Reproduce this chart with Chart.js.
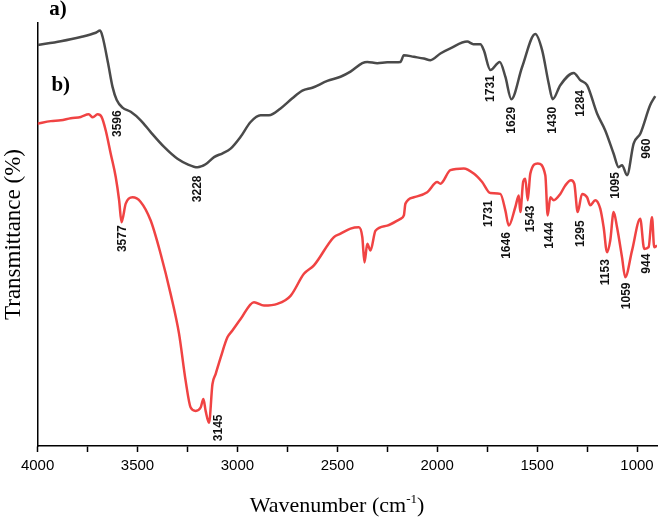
<!DOCTYPE html>
<html>
<head>
<meta charset="utf-8">
<script src="https://cdn.jsdelivr.net/npm/chart.js@4.4.0/dist/chart.umd.min.js"></script>
<style>
  body { margin: 0; background: #fff; }
</style>
</head>
<body>
<canvas id="ftir" width="659" height="518"></canvas>
<script>
// spectrum a) - grey
const wavenumbersA = [4000, 3884, 3784, 3709, 3687, 3675, 3647, 3625, 3604, 3575, 3534, 3484, 3434, 3367, 3300, 3249, 3200,
  3159, 3117, 3074, 3034, 2984, 2934, 2884, 2842, 2784, 2725, 2675, 2625, 2550, 2484, 2434, 2375, 2350, 2300, 2250, 2184,
  2167, 2117, 2067, 2034, 1984, 1934, 1850, 1819, 1784, 1767, 1734, 1687, 1659, 1629, 1575, 1509, 1475, 1442, 1422, 1384,
  1317, 1284, 1250, 1200, 1159, 1117, 1092, 1075, 1050, 1017, 983, 934, 909];
const transmittanceA = [94.8, 95.7, 96.7, 97.7, 98.2, 96.8, 90.4, 84.9, 81.8, 80.0, 79.0, 77.0, 74.2, 70.7, 67.9, 66.6, 65.9,
  66.6, 68.3, 69.2, 70.3, 73.1, 76.6, 78.2, 78.2, 79.8, 82.2, 84.0, 84.7, 86.3, 87.3, 88.5, 90.5, 90.8, 90.5, 90.7, 90.8,
  92.4, 92.0, 91.6, 91.2, 92.8, 94.0, 95.6, 95.0, 95.0, 93.6, 88.9, 90.8, 87.3, 82.0, 89.6, 97.4, 93.6, 85.7, 82.0, 85.3,
  88.2, 86.5, 85.3, 78.6, 74.6, 69.1, 65.9, 66.4, 64.0, 71.5, 73.9, 80.6, 82.7];

// spectrum b) - red
const wavenumbersB = [4000, 3934, 3884, 3834, 3784, 3744, 3724, 3700, 3680, 3659, 3634, 3609, 3592, 3580, 3559, 3525, 3484,
  3434, 3384, 3334, 3292, 3259, 3234, 3209, 3184, 3170, 3159, 3142, 3125, 3109, 3084, 3050, 3025, 2984, 2917, 2867, 2800,
  2734, 2667, 2617, 2517, 2484, 2434, 2392, 2375, 2364, 2350, 2334, 2309, 2250, 2184, 2167, 2159, 2117, 2050, 2000, 1984,
  1934, 1867, 1817, 1775, 1734, 1684, 1659, 1642, 1609, 1592, 1584, 1570, 1559, 1547, 1534, 1497, 1459, 1447, 1434, 1417,
  1384, 1359, 1330, 1314, 1297, 1275, 1250, 1234, 1209, 1184, 1167, 1150, 1134, 1117, 1100, 1075, 1059, 1025, 984, 964,
  942, 925, 914, 900];
const transmittanceB = [76.2, 76.8, 77.0, 77.5, 77.8, 78.4, 77.7, 78.4, 77.8, 74.6, 69.1, 63.6, 58.1, 52.9, 57.3, 58.8, 57.7,
  53.3, 45.4, 35.9, 26.5, 15.4, 9.1, 8.3, 9.1, 11.1, 8.3, 5.5, 14.6, 17.0, 20.9, 25.7, 27.3, 30.0, 34.0, 33.2, 33.6,
  35.5, 40.7, 42.7, 49.4, 50.2, 51.4, 51.7, 49.4, 43.4, 47.8, 46.2, 50.9, 52.1, 53.7, 54.5, 57.3, 58.8, 60.0, 62.4, 62.0,
  65.2, 65.6, 64.4, 62.4, 59.8, 59.6, 55.7, 52.1, 56.5, 59.2, 55.3, 62.4, 63.2, 58.1, 64.4, 66.8, 64.0, 54.5, 58.8, 58.1,
  59.6, 61.6, 62.8, 62.0, 55.3, 59.6, 58.8, 56.9, 58.1, 56.1, 51.7, 45.8, 48.6, 55.3, 51.7, 44.6, 39.9, 46.2, 53.7, 46.6,
  47.0, 54.1, 47.0, 47.4];

// peak labels: text, wavenumber, transmittance where the label sits
const peakText = ['3596', '3228', '1731', '1629', '1430', '1284', '1095', '960',
  '3577', '3145', '1731', '1646', '1543', '1444', '1295', '1153', '1059', '944'];
const peakWn = [3597, 3200, 1734, 1625, 1422, 1284, 1109, 950,
  3575, 3092, 1742, 1650, 1530, 1439, 1284, 1159, 1050, 950];
const peakT = [76.2, 60.8, 84.5, 77.0, 77.0, 81.0, 61.6, 70.3,
  49.0, 4.3, 54.9, 47.4, 53.7, 49.8, 50.2, 41.1, 35.5, 43.1];

const seriesText = ['a)', 'b)'];
const seriesWn = [3898, 3884];
const seriesT = [103.1, 85.1];

const toPoints = (xs, ys) => xs.map((x, i) => ({ x: x, y: ys[i] }));

const annotate = {
  id: 'annotate',
  afterDatasetsDraw(chart) {
    const ctx = chart.ctx;
    const xs = chart.scales.x, ys = chart.scales.y;
    ctx.save();
    ctx.fillStyle = '#111';
    ctx.font = 'bold 12px "Liberation Sans"';
    ctx.textAlign = 'center';
    ctx.textBaseline = 'middle';
    peakText.forEach((t, i) => {
      ctx.save();
      ctx.translate(xs.getPixelForValue(peakWn[i]), ys.getPixelForValue(peakT[i]));
      ctx.rotate(-Math.PI / 2);
      ctx.fillText(t, 0, 0);
      ctx.restore();
    });

    ctx.fillStyle = '#000';
    ctx.font = 'bold 21px "Liberation Serif"';
    seriesText.forEach((t, i) => {
      ctx.fillText(t, xs.getPixelForValue(seriesWn[i]), ys.getPixelForValue(seriesT[i]));
    });

    // x axis title with superscript
    const main = 'Wavenumber (cm', sup = '-1', end = ')';
    ctx.font = '22px "Liberation Serif"';
    const w1 = ctx.measureText(main).width, w3 = ctx.measureText(end).width;
    ctx.font = '13px "Liberation Serif"';
    const w2 = ctx.measureText(sup).width;
    let x = 337 - (w1 + w2 + w3) / 2;
    const base = 512;
    ctx.textAlign = 'left';
    ctx.textBaseline = 'alphabetic';
    ctx.font = '22px "Liberation Serif"';
    ctx.fillText(main, x, base);
    ctx.font = '13px "Liberation Serif"';
    ctx.fillText(sup, x + w1, base - 9);
    ctx.font = '22px "Liberation Serif"';
    ctx.fillText(end, x + w1 + w2, base);
    ctx.restore();
  }
};

const ctx = document.getElementById('ftir').getContext('2d');
new Chart(ctx, {
  type: 'line',
  data: {
    datasets: [{
      label: 'a)',
      data: toPoints(wavenumbersA, transmittanceA),
      borderColor: '#4a4a4a',
      borderWidth: 2.5,
      pointRadius: 0,
      cubicInterpolationMode: 'monotone'
    }, {
      label: 'b)',
      data: toPoints(wavenumbersB, transmittanceB),
      borderColor: '#f04343',
      borderWidth: 2.5,
      pointRadius: 0,
      cubicInterpolationMode: 'monotone'
    }]
  },
  options: {
    responsive: false,
    animation: false,
    layout: { padding: { top: 23, right: 2, bottom: 38, left: 0 } },
    plugins: {
      legend: { display: false },
      tooltip: { enabled: false }
    },
    scales: {
      x: {
        type: 'linear',
        reverse: true,
        min: 900,
        max: 4000,
        ticks: {
          stepSize: 250,
          includeBounds: false,
          autoSkip: false,
          maxRotation: 0,
          color: '#000',
          padding: 5,
          font: { family: 'Liberation Sans', size: 15 },
          callback: v => (v % 500 === 0 ? String(v) : '')
        },
        grid: { drawOnChartArea: false, color: '#000', tickLength: 6, tickWidth: 1.5 },
        border: { color: '#000', width: 1.5 }
      },
      y: {
        min: 0,
        max: 100,
        ticks: { display: false },
        grid: { display: false },
        border: { color: '#000', width: 1.5 },
        title: {
          display: true,
          text: 'Transmittance (%)',
          color: '#000',
          font: { family: 'Liberation Serif', size: 23 },
          padding: { top: 0, bottom: 2 }
        }
      }
    }
  },
  plugins: [annotate]
});
</script>
</body>
</html>
